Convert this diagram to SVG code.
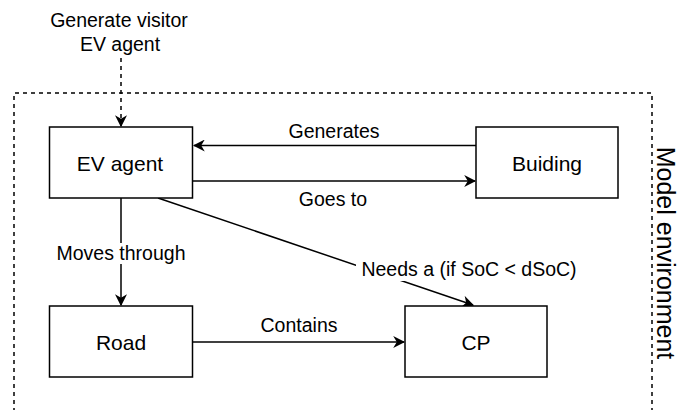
<svg xmlns="http://www.w3.org/2000/svg" width="679" height="410" viewBox="0 0 679 410">
  <defs>
    <marker id="arrow" viewBox="0 0 10 10" refX="9" refY="5" markerWidth="12" markerHeight="12" markerUnits="userSpaceOnUse" orient="auto">
      <path d="M0,0 L10,5 L0,10 L3,5 Z" fill="#000"/>
    </marker>
    <style>
      .box { fill: #fff; stroke: #000; stroke-width: 1.5; }
      .edge { fill: none; stroke: #000; stroke-width: 1.5; marker-end: url(#arrow); }
      .dash { stroke-dasharray: 4 4; }
      text { font-family: "Liberation Sans", Arial, sans-serif; fill: #000; text-anchor: middle; dominant-baseline: central; }
      .lbl { font-size: 19.5px; }
      .name { font-size: 21px; }
      .title { font-size: 25px; }
    </style>
  </defs>

  <rect width="679" height="410" fill="#fff"/>

  <!-- Model environment boundary -->
  <g id="environment">
    <path d="M14,412 L14,93 L652,93 L652,412" fill="none" stroke="#000" stroke-width="1.5" class="dash"/>
    <text class="title" transform="translate(666,253) rotate(90)">Model environment</text>
  </g>

  <!-- Connectors -->
  <g id="connectors">
    <line class="edge dash" x1="121" y1="58" x2="121" y2="126"/>
    <line class="edge" x1="476" y1="145.5" x2="194" y2="145.5"/>
    <line class="edge" x1="193" y1="181" x2="475" y2="181"/>
    <line class="edge" x1="121" y1="198" x2="121" y2="305"/>
    <line class="edge" x1="193" y1="342" x2="404" y2="342"/>
    <line class="edge" x1="158" y1="198" x2="473" y2="305"/>
    <text class="lbl" x="334" y="131">Generates</text>
    <text class="lbl" x="333" y="199">Goes to</text>
    <rect x="55" y="243" width="132" height="21" fill="#fff"/>
    <text class="lbl" x="121" y="253">Moves through</text>
    <text class="lbl" x="299" y="325">Contains</text>
    <rect x="356" y="259" width="228" height="22" fill="#fff"/>
    <text class="lbl" x="469" y="269">Needs a (if SoC &lt; dSoC)</text>
  </g>

  <g id="visitor-source">
    <text class="lbl" x="119" y="20">Generate visitor</text>
    <text class="lbl" x="120" y="44">EV agent</text>
  </g>

  <g id="ev-agent">
    <rect class="box" x="49.5" y="127" width="143" height="71"/>
    <text class="name" x="120" y="163">EV agent</text>
  </g>

  <g id="building">
    <rect class="box" x="476" y="127" width="142" height="71"/>
    <text class="name" x="547" y="163">Buiding</text>
  </g>

  <g id="road">
    <rect class="box" x="49.5" y="306" width="143" height="71"/>
    <text class="name" x="121" y="342">Road</text>
  </g>

  <g id="cp">
    <rect class="box" x="405" y="306" width="142" height="71"/>
    <text class="name" x="476" y="342">CP</text>
  </g>
</svg>
